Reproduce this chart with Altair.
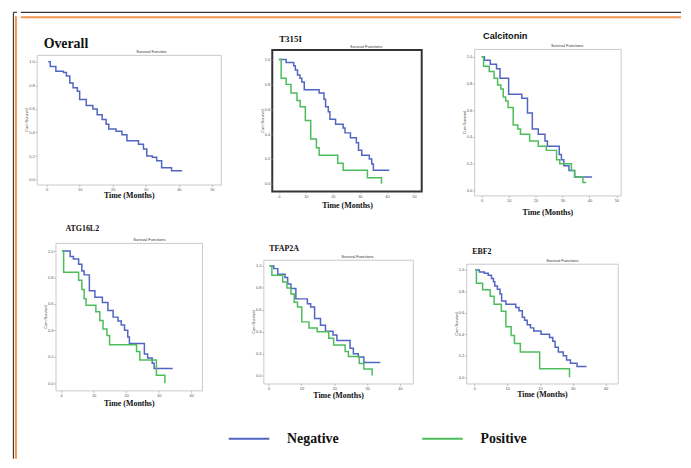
import altair as alt
import pandas as pd

# ---------------- data ----------------
GROUPS = ["Negative", "Positive"]
PANEL_LABELS = ["Overall", "T315I", "Calcitonin", "ATG16L2", "TFAP2A", "EBF2"]
X_TICKS_TOP = [0, 10, 20, 30, 40, 50]
X_TICKS_BOTTOM = [0, 10, 20, 30, 40]
Y_TICKS = [0.0, 0.2, 0.4, 0.6, 0.8, 1.0]

OVERALL_T = [0.5, 1.1, 2.8, 5.1, 6.0, 7.0, 8.0, 9.3, 10.0, 12.0, 14.0, 15.3, 16.8, 18.0, 18.8,
             21.0, 22.8, 24.3, 27.8, 29.3, 30.3, 32.0, 33.3, 34.8, 37.8, 41.0]
OVERALL_S = [1.0, 0.96, 0.92, 0.91, 0.88, 0.82, 0.78, 0.75, 0.68, 0.63, 0.60, 0.55, 0.51, 0.47, 0.43,
             0.41, 0.38, 0.33, 0.30, 0.26, 0.20, 0.19, 0.16, 0.10, 0.076, 0.076]

T315I_NEG_T = [0, 2.7, 5.5, 6.1, 6.9, 7.8, 8.5, 9.4, 14.9, 16.7, 17.3, 18.3, 18.9, 21.0, 23.8, 24.5,
               26.5, 28.7, 29.5, 30.7, 33.5, 34.4, 35.0, 40.9]
T315I_NEG_S = [1.0, 0.976, 0.95, 0.915, 0.875, 0.85, 0.82, 0.757, 0.73, 0.68, 0.62, 0.58, 0.52, 0.48, 0.45,
               0.41, 0.37, 0.33, 0.27, 0.23, 0.20, 0.16, 0.11, 0.11]
T315I_POS_T = [0, 0.85, 2.7, 4.5, 6.7, 7.9, 9.8, 11.8, 13.9, 14.9, 21.8, 23.8, 32.8, 38.0]
T315I_POS_S = [1.0, 0.85, 0.80, 0.73, 0.67, 0.62, 0.51, 0.36, 0.29, 0.23, 0.165, 0.11, 0.05, 0.0]

CALC_NEG_T = [0, 1.0, 3.2, 5.5, 6.8, 10.0, 14.9, 17.0, 18.8, 21.0, 23.5, 24.4, 28.8, 29.6, 30.5,
              32.4, 34.5, 41.0]
CALC_NEG_S = [1.0, 0.975, 0.945, 0.91, 0.84, 0.72, 0.69, 0.58, 0.46, 0.42, 0.37, 0.33, 0.27, 0.23,
              0.185, 0.15, 0.10, 0.10]
CALC_POS_T = [0, 0.7, 2.8, 4.6, 5.9, 7.1, 8.0, 8.9, 9.8, 11.7, 13.4, 14.4, 17.8, 21.0, 24.0, 27.8,
              29.0, 33.3, 34.5, 37.6, 38.8]
CALC_POS_S = [1.0, 0.93, 0.89, 0.84, 0.79, 0.76, 0.70, 0.67, 0.62, 0.49, 0.46, 0.42, 0.37, 0.33, 0.30,
              0.23, 0.20, 0.15, 0.10, 0.06, 0.06]

ATG_NEG_T = [0.3, 2.8, 3.8, 5.4, 6.4, 7.1, 8.7, 10.4, 12.7, 14.4, 16.0, 17.5, 18.5, 19.5, 20.5, 21.0,
             25.6, 26.6, 28.0, 28.6, 34.3]
ATG_NEG_S = [1.0, 0.96, 0.94, 0.90, 0.85, 0.82, 0.70, 0.65, 0.61, 0.55, 0.50, 0.47, 0.44, 0.40, 0.35,
             0.30, 0.22, 0.19, 0.15, 0.11, 0.11]
ATG_POS_T = [0.3, 0.8, 5.4, 6.4, 7.1, 7.7, 10.7, 11.9, 12.9, 14.1, 14.9, 23.2, 24.2, 29.3, 31.9]
ATG_POS_S = [1.0, 0.84, 0.78, 0.71, 0.64, 0.59, 0.54, 0.475, 0.41, 0.36, 0.29, 0.24, 0.175, 0.06, 0.0]

TFAP_NEG_T = [0.3, 1.6, 2.8, 5.0, 5.8, 6.8, 8.3, 11.8, 12.8, 14.0, 15.8, 17.3, 19.6, 20.8, 24.8, 25.8,
              27.3, 29.0, 34.0]
TFAP_NEG_S = [1.0, 0.976, 0.925, 0.895, 0.835, 0.795, 0.70, 0.655, 0.625, 0.52, 0.46, 0.405, 0.37, 0.32,
              0.25, 0.20, 0.17, 0.12, 0.12]
TFAP_POS_T = [0.3, 1.0, 4.3, 5.6, 6.8, 7.8, 8.8, 10.1, 12.3, 14.8, 18.3, 19.8, 23.3, 24.3, 27.6, 29.0, 31.5]
TFAP_POS_S = [1.0, 0.916, 0.855, 0.80, 0.745, 0.67, 0.625, 0.49, 0.435, 0.40, 0.34, 0.28, 0.22, 0.175,
              0.11, 0.06, 0.0]

EBF_NEG_T = [0.2, 1.5, 3.0, 4.2, 5.2, 5.8, 6.2, 7.0, 7.8, 8.3, 9.6, 12.6, 13.6, 14.6, 15.3, 16.1, 17.1,
             18.1, 20.3, 22.9, 23.9, 24.6, 25.6, 27.1, 28.1, 29.3, 31.3, 34.2]
EBF_NEG_S = [1.0, 0.98, 0.97, 0.95, 0.92, 0.89, 0.85, 0.82, 0.775, 0.71, 0.68, 0.65, 0.62, 0.56, 0.53,
             0.49, 0.46, 0.43, 0.40, 0.37, 0.335, 0.28, 0.235, 0.20, 0.16, 0.13, 0.10, 0.10]
EBF_POS_T = [0.2, 0.6, 2.5, 4.8, 6.0, 8.2, 9.6, 11.2, 12.2, 14.0, 19.9, 29.0]
EBF_POS_S = [1.0, 0.875, 0.815, 0.755, 0.68, 0.615, 0.47, 0.39, 0.315, 0.235, 0.08, 0.0]

# ---------------- style ----------------
BLUE = "#5165c2"
GREEN = "#4dbd5c"
FRAME_DARK = "#3a3a3a"
FRAME_ORANGE = "#f4944f"
SERIF = "Liberation Serif"
SANS = "Liberation Sans"

LEGEND = alt.Legend(
    orient="none", legendX=221, legendY=410, direction="horizontal", title=None,
    symbolType="stroke", symbolSize=1681, symbolStrokeWidth=2, padding=0,
    labelFont=SERIF, labelFontSize=14, labelFontWeight="bold", labelColor="#111",
    labelOffset=17, columnPadding=79.5,
)

XAX = dict(labelFontSize=4, labelColor="#555", labelFont=SANS, labelPadding=1, tickSize=2,
           tickColor="#999", tickWidth=0.6, domain=False, grid=False, labelOverlap=False,
           titleFont=SERIF, titleFontSize=8, titleFontWeight="bold", titleColor="#111")
YAX = dict(labelFontSize=4, labelColor="#555", labelFont=SANS, labelPadding=0.5, tickSize=2,
           tickColor="#999", tickWidth=0.6, domain=False, grid=False, labelOverlap=False,
           titleFont=SANS, titleFontSize=4, titleFontWeight="normal", titleColor="#444",
           titlePadding=0)


def km_df(series):
    frames = [pd.DataFrame({"time": t, "surv": s, "group": g}) for t, s, g in series]
    return pd.concat(frames, ignore_index=True)


EMPTY = pd.DataFrame({"k": pd.Series([], dtype=float)})


def spacer(w, h):
    return alt.Chart(EMPTY).mark_point(opacity=0).encode(
        x=alt.value(0), y=alt.value(0)).properties(width=w, height=h)


def panel(series, label, label_font, label_size, label_offset, label_dx, xdom, ydom, xticks,
          w, h, stroke, stroke_w, xtitle_pad, sf_x, sf_text="Survival Functions", single=False):
    df = km_df(series)
    x = alt.X("time:Q", scale=alt.Scale(domain=xdom, nice=False, zero=False),
              axis=alt.Axis(values=xticks, format="d", title="Time (Months)",
                            titlePadding=xtitle_pad, **XAX))
    y = alt.Y("surv:Q", scale=alt.Scale(domain=ydom, nice=False, zero=False),
              axis=alt.Axis(values=Y_TICKS, format=".1f", title="Cum Survival", **YAX))
    if single:
        color = alt.value(BLUE)
    else:
        color = alt.Color("group:N", scale=alt.Scale(domain=GROUPS, range=[BLUE, GREEN]),
                          legend=LEGEND)
    line = alt.Chart(df).mark_line(interpolate="step-after", strokeWidth=1.5).encode(
        x=x, y=y, color=color)
    sf_df = pd.DataFrame({"time": [sf_x], "surv": [ydom[1]]})
    sf = alt.Chart(sf_df).mark_text(
        text=sf_text, font=SANS, fontSize=4, color="#333", baseline="bottom", dy=-1
    ).encode(x=x, y=y)
    return alt.layer(line, sf).properties(
        width=w, height=h,
        view=alt.ViewBackground(stroke=stroke, strokeWidth=stroke_w),
        title=alt.TitleParams(text=label, anchor="start", frame="group", font=label_font,
                              fontSize=label_size, fontWeight="bold", color="#111",
                              offset=label_offset, dx=label_dx),
    )


def cell(top_gap, p):
    return alt.vconcat(spacer(1, top_gap), p, spacing=0)


LIGHT = "#c9c9c9"

p_overall = panel([(OVERALL_T, OVERALL_S, "Overall")], PANEL_LABELS[0], SERIF, 14, -1.4, 7,
                  [-3, 52.7], [-0.042, 1.059], X_TICKS_TOP, 186, 131, LIGHT, 1, 0, 31.7,
                  sf_text="Survival Function", single=True)
p_t315 = panel([(T315I_NEG_T, T315I_NEG_S, "Negative"), (T315I_POS_T, T315I_POS_S, "Positive")],
               PANEL_LABELS[1], SERIF, 9, 1.2, 7,
               [-2.45, 52.9], [-0.061, 1.077], X_TICKS_TOP, 151, 143, "#333333", 2, 3, 32.3)
p_calc = panel([(CALC_NEG_T, CALC_NEG_S, "Negative"), (CALC_POS_T, CALC_POS_S, "Positive")],
               PANEL_LABELS[2], SANS, 9.3, 2.8, 9,
               [-2.8, 51.6], [-0.037, 1.059], X_TICKS_TOP, 148, 148, LIGHT, 1, 6, 31.7)
p_atg = panel([(ATG_NEG_T, ATG_NEG_S, "Negative"), (ATG_POS_T, ATG_POS_S, "Positive")],
              PANEL_LABELS[3], SERIF, 8, 4.8, 10,
              [-1.7, 43.3], [-0.055, 1.062], X_TICKS_BOTTOM, 148, 149, LIGHT, 1, 2, 27.1)
p_tfap = panel([(TFAP_NEG_T, TFAP_NEG_S, "Negative"), (TFAP_POS_T, TFAP_POS_S, "Positive")],
               PANEL_LABELS[4], SERIF, 8, 1.8, 6,
               [-1.6, 43.9], [-0.072, 1.057], X_TICKS_BOTTOM, 151, 125, LIGHT, 1, 1, 27.0)
p_ebf = panel([(EBF_NEG_T, EBF_NEG_S, "Negative"), (EBF_POS_T, EBF_POS_S, "Positive")],
              PANEL_LABELS[5], SERIF, 8, 2.8, 6,
              [-2.5, 43.7], [-0.058, 1.058], X_TICKS_BOTTOM, 153, 121, LIGHT, 1, 0, 26.8)

row1 = alt.hconcat(spacer(2, 1), cell(6, p_overall), spacer(35.5, 1), cell(3.5, p_t315),
                   spacer(37.5, 1), cell(1.35, p_calc), spacing=0)
row2 = alt.hconcat(spacer(21, 1), cell(5, p_atg), spacer(46, 1), cell(25, p_tfap),
                   spacer(38.5, 1), cell(28, p_ebf), spacing=0)
body = alt.vconcat(row1, row2, spacing=0)

# ---------------- page frame (decoration) ----------------
LEFT_W, TOP_H, FULL_H, MAIN_W = 8, 16, 452, 667
one = pd.DataFrame({"k": [0]})


def rule(color, width, **enc):
    return alt.Chart(one).mark_rule(color=color, strokeWidth=width).encode(**enc)


left_strip = alt.layer(
    rule(FRAME_DARK, 1.2, x=alt.value(4.5), y=alt.value(1), y2=alt.value(FULL_H)),
    rule(FRAME_ORANGE, 2, x=alt.value(7), y=alt.value(6), y2=alt.value(FULL_H)),
    rule(FRAME_DARK, 1.2, x=alt.value(4.5), x2=alt.value(LEFT_W), y=alt.value(1)),
    rule(FRAME_ORANGE, 2, x=alt.value(6), x2=alt.value(LEFT_W), y=alt.value(6)),
).properties(width=LEFT_W, height=FULL_H)

top_strip = alt.layer(
    rule(FRAME_DARK, 1.2, x=alt.value(0), x2=alt.value(MAIN_W), y=alt.value(1)),
    rule(FRAME_ORANGE, 2, x=alt.value(0), x2=alt.value(MAIN_W), y=alt.value(6)),
).properties(width=MAIN_W, height=TOP_H)

main = alt.vconcat(top_strip, body, spacing=0)
chart = alt.hconcat(left_strip, main, spacing=0).resolve_scale(color="shared").properties(
    padding={"left": 0, "top": 0, "right": 0, "bottom": 0}, background="white"
).configure_view(stroke="transparent").configure_axis(labelOverlap=False)

chart.save("out.html", embed_options={"renderer": "svg", "actions": False})
